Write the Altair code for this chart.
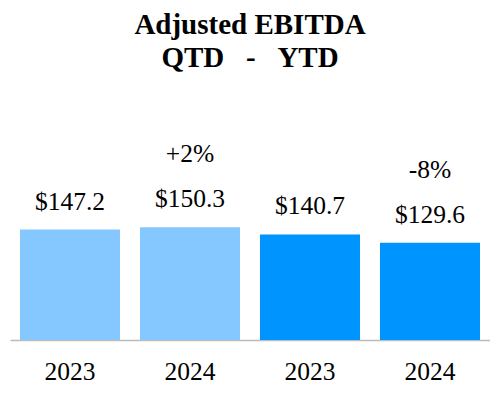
import altair as alt
import pandas as pd

periods = ["QTD", "QTD", "YTD", "YTD"]
years = ["2023", "2024", "2023", "2024"]
values = [147.2, 150.3, 140.7, 129.6]
value_labels = ["$147.2", "$150.3", "$140.7", "$129.6"]
changes = ["", "+2%", "", "-8%"]
period_domain = ["QTD", "YTD"]
period_colors = ["#85C8FF", "#0094FF"]

keys = [p + " " + y for p, y in zip(periods, years)]
df = pd.DataFrame({
    "key": keys,
    "period": periods,
    "year": years,
    "value": values,
    "label": value_labels,
    "change": changes,
})

FONT = "Times New Roman, Liberation Serif, serif"

x = alt.X(
    "key:N",
    sort=keys,
    title=None,
    scale=alt.Scale(paddingInner=1 / 6, paddingOuter=1 / 12),
    axis=alt.Axis(
        labelExpr="split(datum.label, ' ')[1]",
        labelAngle=0,
        ticks=False,
        domainColor="#BBBBBB",
        domainWidth=1.5,
        labelFont=FONT,
        labelFontSize=25.5,
        labelColor="black",
        labelPadding=19,
        grid=False,
    ),
)
y = alt.Y("value:Q", scale=alt.Scale(domain=[0, 200]), axis=None)

base = alt.Chart(df).encode(x=x, y=y)

bars = base.mark_bar().encode(
    color=alt.Color("period:N", scale=alt.Scale(domain=period_domain, range=period_colors), legend=None)
)

vals = base.mark_text(font=FONT, fontSize=25.5, dy=-20, baseline="alphabetic", color="black").encode(
    text="label:N"
)

pcts = base.transform_filter("datum.change != ''").mark_text(
    font=FONT, fontSize=25.5, dy=-65, baseline="alphabetic", color="black"
).encode(text="change:N")

chart = (
    alt.layer(bars, vals, pcts)
    .properties(
        width=480,
        height=150,
        autosize=alt.AutoSizeParams(type="none"),
        padding={"left": 2, "top": 182, "right": 0, "bottom": 48},
        title=alt.TitleParams(
            text=["Adjusted EBITDA", "QTD\u00a0\u00a0\u00a0-\u00a0\u00a0\u00a0YTD"],
            font=FONT,
            fontSize=29,
            fontWeight="bold",
            color="black",
            anchor="middle",
            lineHeight=33,
            offset=69,
        ),
    )
    .configure_view(stroke=None)
)

chart.save("out.html", embed_options={"renderer": "svg", "actions": False})
